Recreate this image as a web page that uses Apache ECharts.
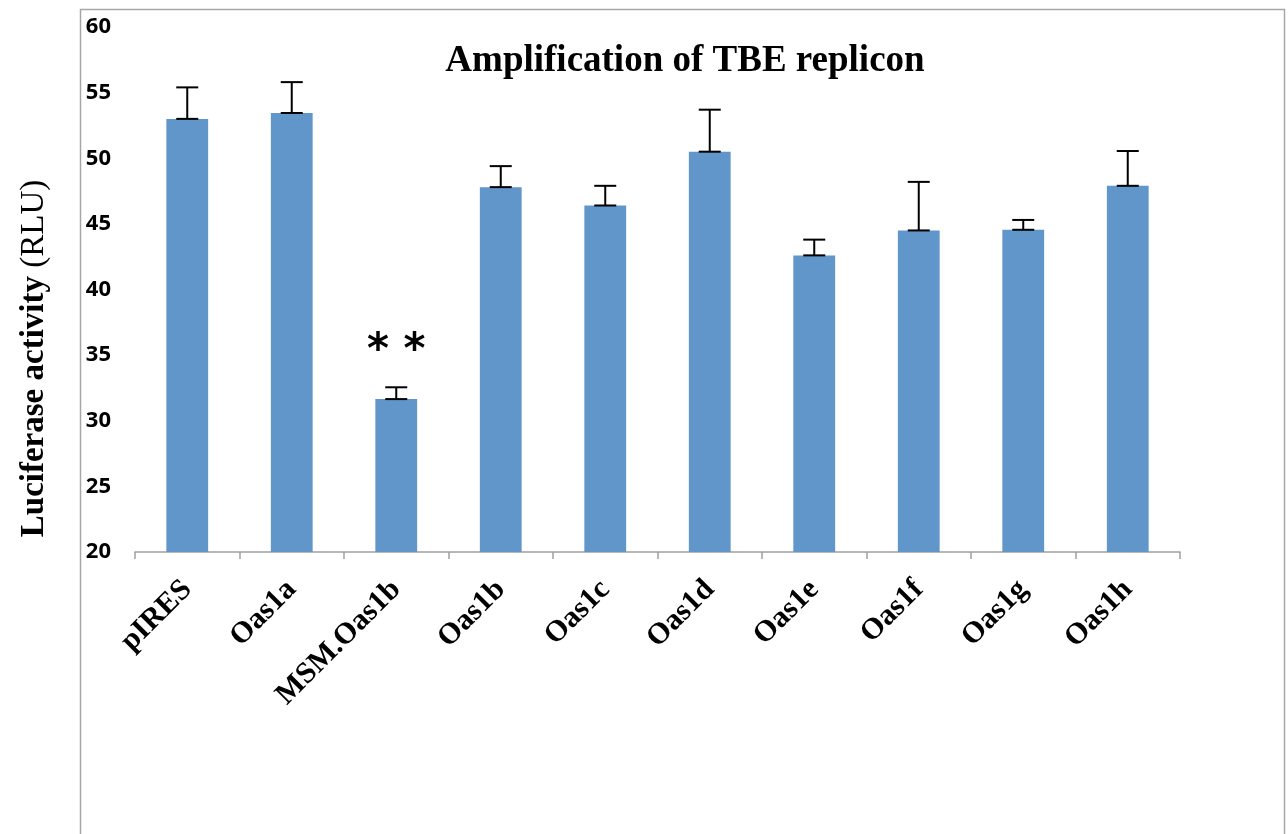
<!DOCTYPE html>
<html><head><meta charset="utf-8">
<script src="https://cdn.jsdelivr.net/npm/echarts@6/dist/echarts.min.js"></script>
<style>html,body{margin:0;padding:0;background:#fff}#c{width:1288px;height:834px}</style>
</head><body><div id="c"></div>
<script>
var categories = ['pIRES','Oas1a','MSM.Oas1b','Oas1b','Oas1c','Oas1d','Oas1e','Oas1f','Oas1g','Oas1h'];
var values = [53.0, 53.45, 31.65, 47.8, 46.4, 50.5, 42.6, 44.5, 44.55, 47.9];
var errors = [2.4, 2.35, 0.9, 1.6, 1.5, 3.2, 1.2, 3.7, 0.75, 2.65];
var yTicks = [20, 25, 30, 35, 40, 45, 50, 55, 60];
var annotations = [{category: 'MSM.Oas1b', value: 35.2, text: '* *'}];

var chart = echarts.init(document.getElementById('c'));
var errData = categories.map(function(c, i){ return [i, values[i], values[i] + errors[i]]; });
var annData = annotations.map(function(a){ return [categories.indexOf(a.category), a.value, a.text]; });

chart.setOption({
  animation: false,
  backgroundColor: '#fff',
  title: {
    text: 'Amplification of TBE replicon',
    left: 680, top: 38, textAlign: 'center',
    textStyle: {fontFamily: 'Liberation Serif', fontWeight: 'bold', fontSize: 37, color: '#000'}
  },
  graphic: [{
    type: 'rect', left: 78, top: 7,
    shape: {width: 1204, height: 840},
    style: {fill: 'none', stroke: '#a6a6a6', lineWidth: 1.5}, silent: true, z: -1
  }],
  grid: {left: 135, right: 108, top: 27, bottom: 282},
  xAxis: {
    type: 'category', data: categories,
    axisLine: {lineStyle: {color: '#a0a0a0', width: 1.5}},
    axisTick: {show: true, length: 7, lineStyle: {color: '#a0a0a0', width: 1.5}},
    axisLabel: {rotate: 45, interval: 0, margin: 33, fontFamily: 'Liberation Serif', fontWeight: 'bold', fontSize: 30, color: '#000'}
  },
  yAxis: {
    type: 'value', min: 20, max: 60, interval: 5,
    axisLine: {show: false}, axisTick: {show: false}, splitLine: {show: false},
    axisLabel: {margin: 24, fontFamily: 'Noto Sans', fontWeight: 'bold', fontSize: 22, color: '#000',
      formatter: function(v){ return yTicks.indexOf(v) >= 0 ? String(v) : ''; }},
    name: '{b|Luciferase activity }{n|(RLU)}',
    nameLocation: 'middle', nameGap: 84, nameRotate: 90,
    nameTextStyle: {padding: [0, 138, 0, 0], rich: {
      b: {fontFamily: 'Liberation Serif', fontWeight: 'bold', fontSize: 33, color: '#000'},
      n: {fontFamily: 'Liberation Serif', fontWeight: 'normal', fontSize: 33, color: '#000'}
    }}
  },
  series: [{
    type: 'bar', data: values, barWidth: '40%',
    itemStyle: {color: '#6096c9'}
  }, {
    type: 'custom', data: errData, z: 5,
    renderItem: function(params, api){
      var x = api.coord([api.value(0), api.value(1)])[0];
      var y0 = api.coord([api.value(0), api.value(1)])[1];
      var y1 = api.coord([api.value(0), api.value(2)])[1];
      var hw = 11;
      var st = {stroke: '#000', lineWidth: 2};
      return {type: 'group', children: [
        {type: 'line', shape: {x1: x, y1: y0, x2: x, y2: y1}, style: st},
        {type: 'line', shape: {x1: x - hw, y1: y1, x2: x + hw, y2: y1}, style: st},
        {type: 'line', shape: {x1: x - hw, y1: y0, x2: x + hw, y2: y0}, style: st}
      ]};
    }
  }, {
    type: 'custom', data: annData, z: 6,
    renderItem: function(params, api){
      var p = api.coord([api.value(0), api.value(1)]);
      return {type: 'text', style: {text: annotations[params.dataIndex].text, x: p[0], y: p[1],
        textAlign: 'center', textVerticalAlign: 'middle',
        font: 'bold 42px "DejaVu Sans"', fill: '#000'}};
    }
  }]
});
</script></body></html>
